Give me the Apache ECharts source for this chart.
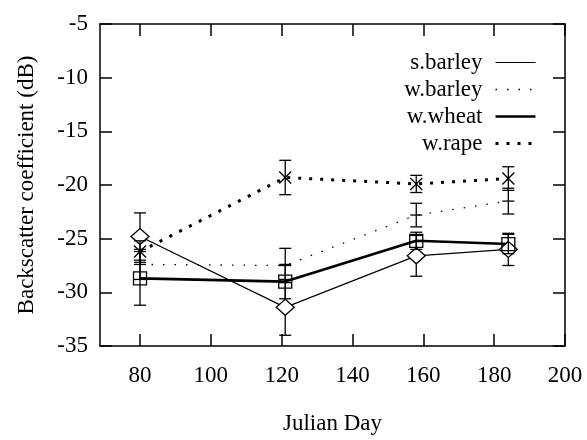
<!DOCTYPE html>
<html>
<head>
<meta charset="utf-8">
<script src="https://cdn.jsdelivr.net/npm/echarts@6/dist/echarts.min.js"></script>
<style>
  html, body { margin: 0; padding: 0; background: #fff; }
  #main { width: 587px; height: 440px; }
</style>
</head>
<body>
<div id="main"></div>
<script>
// 数据 (Julian day, backscatter dB, error)
var days = [80, 121, 158, 184];
var sBarley = [-24.8, -31.4, -26.6, -26.0];
var sBarleyErr = [2.2, 2.6, 1.9, 1.5];
var wBarley = [-27.4, -27.5, -22.8, -21.5];
var wBarleyErr = [1.4, 1.6, 1.1, 1.2];
var wWheat = [-28.7, -29.0, -25.2, -25.5];
var wWheatErr = [2.5, 1.6, 0.8, 0.9];
var wRape = [-26.2, -19.3, -19.9, -19.4];
var wRapeErr = [1.0, 1.6, 0.8, 1.1];
var xTicks = [80, 100, 120, 140, 160, 180, 200];

var FONT = 'Liberation Serif';

function pairs(vals) {
    return days.map(function (d, i) { return [d, vals[i]]; });
}

// error bars + point markers drawn with a custom series
function errorSeries(vals, errs, marker) {
    return {
        type: 'custom',
        z: 5,
        silent: true,
        data: days.map(function (d, i) { return [d, vals[i], errs[i]]; }),
        encode: { x: 0, y: 1 },
        renderItem: function (params, api) {
            var x = api.value(0), y = api.value(1), e = api.value(2);
            var c = api.coord([x, y]);
            var top = api.coord([x, y + e]);
            var bot = api.coord([x, y - e]);
            var st = { stroke: '#000', lineWidth: 1.3, fill: null };
            var kids = [
                { type: 'line', shape: { x1: c[0], y1: top[1], x2: c[0], y2: bot[1] }, style: st },
                { type: 'line', shape: { x1: c[0] - 6, y1: top[1], x2: c[0] + 6, y2: top[1] }, style: st },
                { type: 'line', shape: { x1: c[0] - 6, y1: bot[1], x2: c[0] + 6, y2: bot[1] }, style: st }
            ];
            if (marker === 'diamond') {
                kids.push({ type: 'polygon', shape: { points: [[c[0], c[1] - 8], [c[0] + 9, c[1]], [c[0], c[1] + 8], [c[0] - 9, c[1]]] }, style: { stroke: '#000', lineWidth: 1.3, fill: '#fff' } });
            } else if (marker === 'square') {
                kids.push({ type: 'rect', shape: { x: c[0] - 6.5, y: c[1] - 6.5, width: 13, height: 13 }, style: { stroke: '#000', lineWidth: 1.3, fill: 'none' } });
            } else if (marker === 'plus') {
                kids.push({ type: 'line', shape: { x1: c[0] - 6, y1: c[1], x2: c[0] + 6, y2: c[1] }, style: st });
            } else if (marker === 'cross') {
                kids.push({ type: 'line', shape: { x1: c[0] - 6, y1: c[1] - 6, x2: c[0] + 6, y2: c[1] + 6 }, style: st });
                kids.push({ type: 'line', shape: { x1: c[0] - 6, y1: c[1] + 6, x2: c[0] + 6, y2: c[1] - 6 }, style: st });
            }
            return { type: 'group', children: kids };
        }
    };
}

var myChart = echarts.init(document.getElementById('main'));
var axisCommon = {
    type: 'value',
    axisLine: { show: true, onZero: false, lineStyle: { color: '#000', width: 1.5 } },
    axisTick: { show: true, inside: true, length: 12, lineStyle: { color: '#000', width: 1.5 } },
    splitLine: { show: false }
};
var option = {
    backgroundColor: '#fff',
    animation: false,
    textStyle: { fontFamily: FONT },
    grid: { left: 100, right: 22, top: 24, bottom: 93 },
    legend: {
        orient: 'vertical',
        right: 50,
        top: 51,
        padding: 0,
        align: 'right',
        itemWidth: 40,
        itemHeight: 14,
        itemGap: 4,
        itemStyle: { color: 'rgba(0,0,0,0)', borderColor: 'rgba(0,0,0,0)', borderWidth: 0 },
        textStyle: { fontFamily: FONT, fontSize: 23, lineHeight: 22, color: '#000', padding: [0, 8, 0, 0] },
        data: [
            { name: 's.barley', lineStyle: { width: 1.2 } },
            { name: 'w.barley', lineStyle: { width: 1.3, type: [1.5, 10] } },
            { name: 'w.wheat', lineStyle: { width: 2.6 } },
            { name: 'w.rape', lineStyle: { width: 3, type: [3, 8] } }
        ]
    },
    xAxis: [
        echarts.util.merge({
            min: 68.7, max: 200,
            name: 'Julian Day',
            nameLocation: 'middle',
            nameGap: 66,
            nameTextStyle: { fontFamily: FONT, fontSize: 23, color: '#000' },
            axisTick: { customValues: xTicks },
            axisLabel: { customValues: xTicks, margin: 18, fontFamily: FONT, fontSize: 23, color: '#000' }
        }, axisCommon, false),
        echarts.util.merge({
            min: 68.7, max: 200, position: 'top',
            axisTick: { customValues: xTicks },
            axisLabel: { show: false }
        }, axisCommon, false)
    ],
    yAxis: [
        echarts.util.merge({
            min: -35, max: -5, interval: 5,
            name: 'Backscatter coefficient (dB)',
            nameLocation: 'middle',
            nameGap: 62,
            nameTextStyle: { fontFamily: FONT, fontSize: 23, color: '#000' },
            axisLabel: { margin: 12, fontFamily: FONT, fontSize: 23, color: '#000' }
        }, axisCommon, false),
        echarts.util.merge({
            min: -35, max: -5, interval: 5, position: 'right',
            axisLabel: { show: false }
        }, axisCommon, false)
    ],
    series: [
        { name: 's.barley', type: 'line', symbol: 'none', data: pairs(sBarley), lineStyle: { color: '#000', width: 1.2 }, itemStyle: { color: '#000' } },
        { name: 'w.barley', type: 'line', symbol: 'none', data: pairs(wBarley), lineStyle: { color: '#000', width: 1.3, type: [1.5, 10] }, itemStyle: { color: '#000' } },
        { name: 'w.wheat', type: 'line', symbol: 'none', data: pairs(wWheat), lineStyle: { color: '#000', width: 2.6 }, itemStyle: { color: '#000' } },
        { name: 'w.rape', type: 'line', symbol: 'none', data: pairs(wRape), lineStyle: { color: '#000', width: 3, type: [3, 8] }, itemStyle: { color: '#000' } },
        errorSeries(sBarley, sBarleyErr, 'diamond'),
        errorSeries(wBarley, wBarleyErr, 'plus'),
        errorSeries(wWheat, wWheatErr, 'square'),
        errorSeries(wRape, wRapeErr, 'cross')
    ]
};
myChart.setOption(option);
window.addEventListener('resize', function () {
    myChart.resize();
});
</script>
</body>
</html>
